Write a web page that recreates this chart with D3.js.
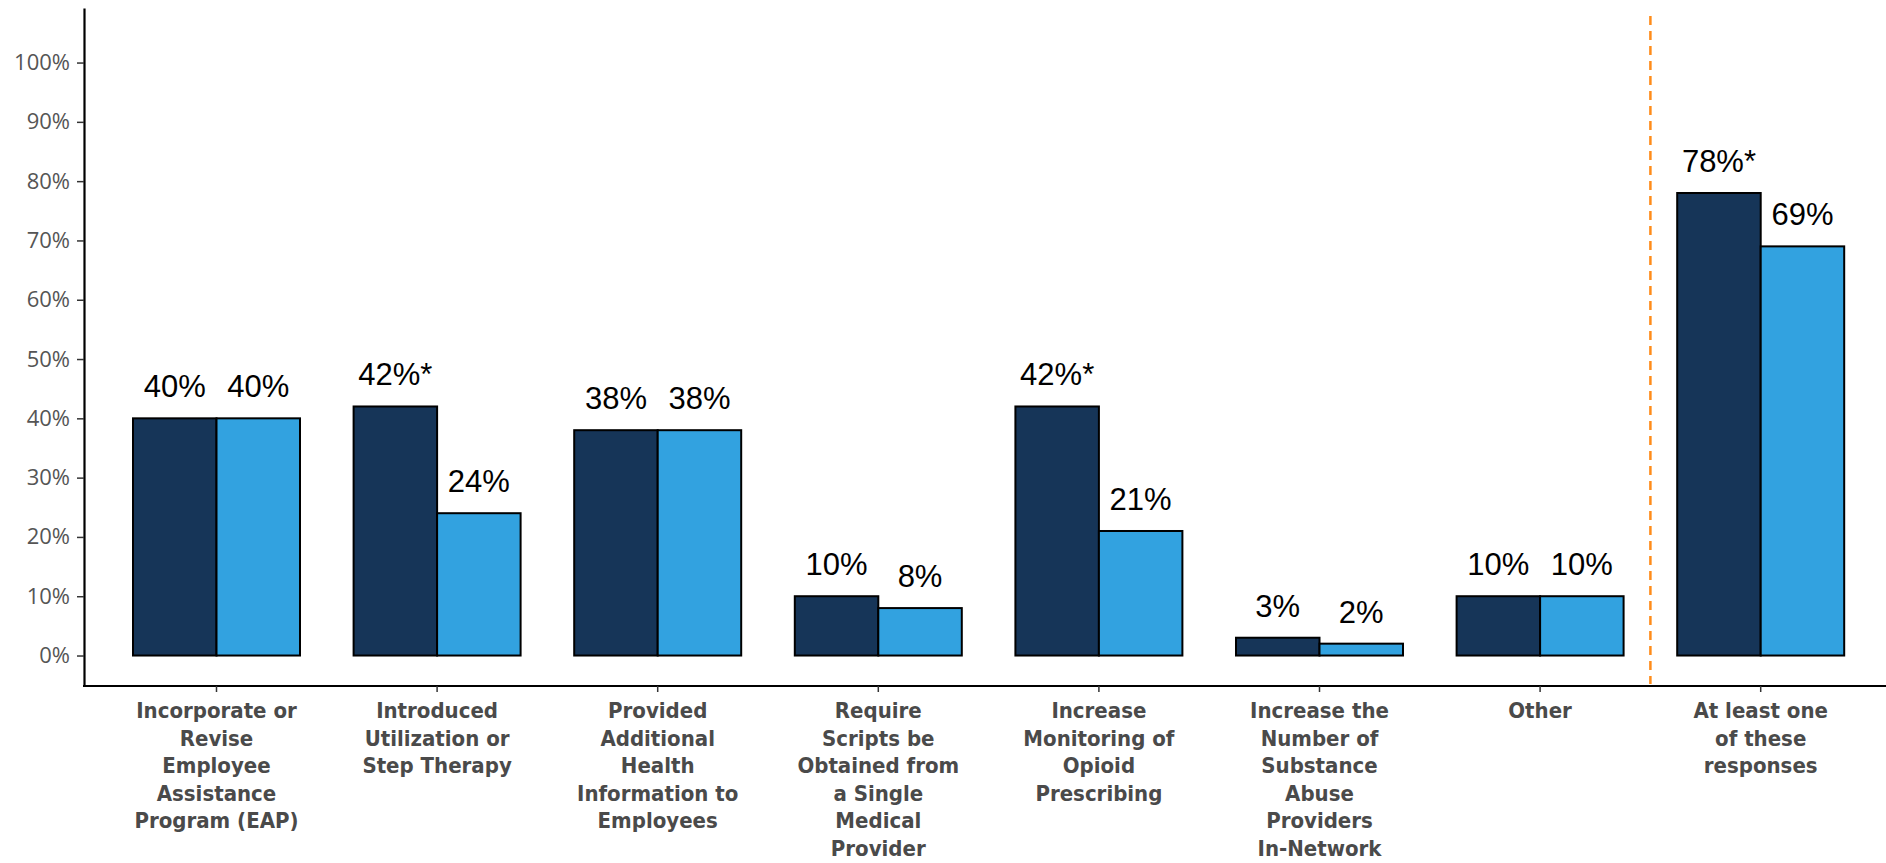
<!DOCTYPE html>
<html>
<head>
<meta charset="utf-8">
<script src="https://cdn.jsdelivr.net/npm/d3@7"></script>
<style>
  html, body { margin: 0; padding: 0; background: #fff; }
  svg { display: block; }
  .ytick text { font-family: "Open Sans", sans-serif; font-size: 22px; fill: #555; }
  .cat-label { font-family: "Liberation Sans Narrow", "DejaVu Sans Condensed", sans-serif; font-weight: bold; font-size: 22px; fill: #4a4a4a; }
  .val-label { font-family: "Liberation Sans", Arial, sans-serif; font-size: 31px; fill: #000; }
</style>
</head>
<body>
<svg id="chart" width="1886" height="863"></svg>
<script>
// Category labels, one entry per line of text
const categories = [
  ["Incorporate or", "Revise", "Employee", "Assistance", "Program (EAP)"],
  ["Introduced", "Utilization or", "Step Therapy"],
  ["Provided", "Additional", "Health", "Information to", "Employees"],
  ["Require", "Scripts be", "Obtained from", "a Single", "Medical", "Provider"],
  ["Increase", "Monitoring of", "Opioid", "Prescribing"],
  ["Increase the", "Number of", "Substance", "Abuse", "Providers", "In-Network"],
  ["Other"],
  ["At least one", "of these", "responses"]
];

// Percent values for the two series (dark, light)
const valuesA = [40, 42, 38, 10, 42, 3, 10, 78];
const valuesB = [40, 24, 38, 8, 21, 2, 10, 69];

// Significance flag shown as an asterisk on the first series
const significantA = [false, true, false, false, true, false, false, true];

// Y tick values
const yTicks = [0, 10, 20, 30, 40, 50, 60, 70, 80, 90, 100];

const colorA = "#163558";
const colorB = "#32a2e0";

const svg = d3.select("#chart");
const axisX = 84, axisYTop = 8, axisYBottom = 686;

const y = d3.scaleLinear().domain([-5.14, 109.2]).range([axisYBottom, axisYTop]);

const keys = categories.map((c, i) => "c" + i);
const x = d3.scaleBand()
  .domain(keys)
  .range([106.2, 106.2 + 8 * 220.6])
  .paddingInner(0.243)
  .paddingOuter(0.1215);

const xs = d3.scaleBand().domain(["A", "B"]).range([0, x.bandwidth()]);

// Y axis
const yAxis = svg.append("g")
  .attr("class", "ytick")
  .attr("transform", `translate(${axisX},0)`)
  .call(d3.axisLeft(y).tickValues(yTicks).tickFormat(d => d + "%").tickSize(7).tickSizeOuter(0).tickPadding(7));
yAxis.select(".domain").attr("stroke", "#000").attr("stroke-width", 2.2);
yAxis.selectAll(".tick line").attr("stroke", "#333").attr("stroke-width", 1.5);

// X axis line and ticks
svg.append("line")
  .attr("x1", axisX - 1).attr("x2", 1886)
  .attr("y1", axisYBottom).attr("y2", axisYBottom)
  .attr("stroke", "#000").attr("stroke-width", 2.2);

const xAxis = svg.append("g")
  .attr("transform", `translate(0,${axisYBottom})`)
  .call(d3.axisBottom(x).tickSize(6).tickFormat(""));
xAxis.select(".domain").remove();
xAxis.selectAll(".tick line").attr("stroke", "#333").attr("stroke-width", 1.5);

// Separator before the summary category
const sepX = (x(keys[6]) + x.bandwidth() / 2 + x(keys[7]) + x.bandwidth() / 2) / 2;
svg.append("line")
  .attr("x1", sepX).attr("x2", sepX)
  .attr("y1", 16).attr("y2", axisYBottom - 2)
  .attr("stroke", "#ff8c1a").attr("stroke-width", 2.5)
  .attr("stroke-dasharray", "9,6");

// Bars
const groups = svg.selectAll("g.group")
  .data(keys)
  .join("g")
  .attr("class", "group")
  .attr("transform", k => `translate(${x(k)},0)`);

groups.each(function (k, i) {
  const g = d3.select(this);
  const rows = [
    { s: "A", v: valuesA[i], c: colorA, star: significantA[i] },
    { s: "B", v: valuesB[i], c: colorB, star: false }
  ];
  rows.forEach(r => {
    g.append("rect")
      .attr("x", xs(r.s))
      .attr("y", y(r.v))
      .attr("width", xs.bandwidth())
      .attr("height", y(0) - y(r.v))
      .attr("fill", r.c)
      .attr("stroke", "#000")
      .attr("stroke-width", 2);
    g.append("text")
      .attr("class", "val-label")
      .attr("x", xs(r.s) + xs.bandwidth() / 2)
      .attr("y", y(r.v) - 21)
      .attr("text-anchor", "middle")
      .text(r.v + "%" + (r.star ? "*" : ""));
  });
});

// Category labels
categories.forEach((lines, i) => {
  const cx = x(keys[i]) + x.bandwidth() / 2;
  const t = svg.append("text")
    .attr("class", "cat-label")
    .attr("text-anchor", "middle")
    .attr("x", cx)
    .attr("y", 718);
  lines.forEach((ln, j) => {
    t.append("tspan").attr("x", cx).attr("dy", j === 0 ? 0 : 27.5).text(ln);
  });
});
</script>
</body>
</html>
